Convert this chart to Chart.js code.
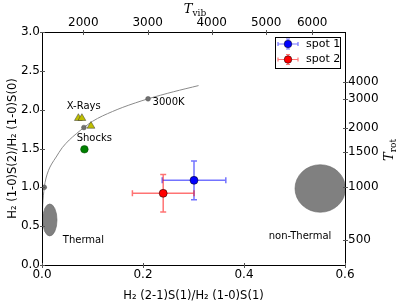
<!DOCTYPE html>
<html>
<head>
<meta charset="utf-8">
<script src="https://cdn.jsdelivr.net/npm/chart.js@4.4.1/dist/chart.umd.min.js"></script>
<style>
body { margin: 0; background: #fff; }
</style>
</head>
<body>
<canvas id="myChart" width="399" height="303"></canvas>
<script>
// LTE model curve: x = 2-1 S(1)/1-0 S(1), y = 1-0 S(2)/1-0 S(0)
const curveX = [0.0, 0.0003, 0.0015, 0.0045, 0.008, 0.013, 0.019, 0.028, 0.04, 0.054, 0.068, 0.083, 0.1, 0.12, 0.16, 0.21, 0.26, 0.31];
const curveY = [0.0, 0.45, 0.78, 1.00, 1.12, 1.22, 1.30, 1.39, 1.51, 1.61, 1.69, 1.77, 1.85, 1.92, 2.03, 2.14, 2.23, 2.31];
// temperature marks on the curve
const dotX = [0.0045, 0.083, 0.21];
const dotY = [1.00, 1.77, 2.14];
// models
const xrayX = [0.072, 0.079, 0.097];
const xrayY = [1.89, 1.89, 1.79];
const shockX = [0.084];
const shockY = [1.49];
// observed spots
const spotNames = ['spot 1', 'spot 2'];
const spotX = [0.301, 0.240];
const spotY = [1.09, 0.923];
const spotXErr = [0.063, 0.061];
const spotYErr = [0.25, 0.242];
// thermal / non-thermal regions (centre and half sizes)
const regionX = [0.0154, 0.551];
const regionY = [0.58, 0.985];
const regionW = [0.0143, 0.050];
const regionH = [0.206, 0.306];
// annotations
const noteText = ['X-Rays', 'Shocks', '3000K', 'Thermal', 'non-Thermal'];
const noteX = [0.0826, 0.1036, 0.219, 0.082, 0.511];
const noteY = [2.037, 1.631, 2.089, 0.322, 0.364];
// ticks
const xTicks = [0, 0.2, 0.4, 0.6];
const yTicks = [0, 0.5, 1.0, 1.5, 2.0, 2.5, 3.0];
const tvibLabels = [2000, 3000, 4000, 5000, 6000];
const tvibPos = [0.0818, 0.2093, 0.336, 0.444, 0.535];
const trotLabels = [500, 1000, 1500, 2000, 3000, 4000];
const trotPos = [0.322, 1.004, 1.454, 1.763, 2.136, 2.355];

const spotColors = ['#0000ff', '#ff0000'];
const spotErrColors = ['rgba(0,0,255,0.55)', 'rgba(255,0,0,0.55)'];

Chart.defaults.font.family = 'DejaVu Sans';
Chart.defaults.color = '#000';

function pts(xs, ys) {
    return xs.map((x, i) => ({x: x, y: ys[i]}));
}

function drawTSub(ctx, x, y, sub, rot) {
    ctx.save();
    ctx.translate(x, y);
    ctx.rotate(rot);
    ctx.fillStyle = '#000';
    ctx.textBaseline = 'alphabetic';
    ctx.font = 'italic 13px "DejaVu Serif"';
    const w1 = ctx.measureText('T').width;
    ctx.font = '9px "DejaVu Serif"';
    const w2 = ctx.measureText(sub).width;
    const start = -(w1 + w2) / 2;
    ctx.font = 'italic 13px "DejaVu Serif"';
    ctx.textAlign = 'left';
    ctx.fillText('T', start, 4);
    ctx.font = '9px "DejaVu Serif"';
    ctx.fillText(sub, start + w1, 7);
    ctx.restore();
}

const extras = {
    id: 'extras',
    beforeDatasetsDraw(chart) {
        const ctx = chart.ctx;
        const xs = chart.scales.x, ys = chart.scales.y;
        // regions
        ctx.save();
        regionX.forEach((cx, i) => {
            const px = xs.getPixelForValue(cx), py = ys.getPixelForValue(regionY[i]);
            const rx = xs.getPixelForValue(cx + regionW[i]) - px;
            const ry = py - ys.getPixelForValue(regionY[i] + regionH[i]);
            ctx.beginPath();
            ctx.ellipse(px, py, rx, ry, 0, 0, Math.PI * 2);
            ctx.fillStyle = '#808080';
            ctx.fill();
            ctx.lineWidth = 0.6;
            ctx.strokeStyle = '#666';
            ctx.stroke();
        });
        // error bars
        spotX.forEach((sx, i) => {
            const px = xs.getPixelForValue(sx), py = ys.getPixelForValue(spotY[i]);
            const x0 = xs.getPixelForValue(sx - spotXErr[i]), x1 = xs.getPixelForValue(sx + spotXErr[i]);
            const y0 = ys.getPixelForValue(spotY[i] - spotYErr[i]), y1 = ys.getPixelForValue(spotY[i] + spotYErr[i]);
            ctx.strokeStyle = spotErrColors[i];
            ctx.lineWidth = 1.5;
            ctx.beginPath();
            ctx.moveTo(x0, py); ctx.lineTo(x1, py);
            ctx.moveTo(px, y0); ctx.lineTo(px, y1);
            ctx.moveTo(x0, py - 3); ctx.lineTo(x0, py + 3);
            ctx.moveTo(x1, py - 3); ctx.lineTo(x1, py + 3);
            ctx.moveTo(px - 3, y0); ctx.lineTo(px + 3, y0);
            ctx.moveTo(px - 3, y1); ctx.lineTo(px + 3, y1);
            ctx.stroke();
        });
        ctx.restore();
    },
    afterDraw(chart) {
        const ctx = chart.ctx;
        const a = chart.chartArea;
        const xs = chart.scales.x, ys = chart.scales.y;
        ctx.save();
        // notes
        ctx.fillStyle = '#000';
        ctx.font = '10px "DejaVu Sans"';
        ctx.textBaseline = 'middle';
        noteText.forEach((t, i) => {
            ctx.textAlign = t === '3000K' ? 'left' : 'center';
            ctx.fillText(t, xs.getPixelForValue(noteX[i]), ys.getPixelForValue(noteY[i]));
        });
        // frame
        ctx.strokeStyle = '#000';
        ctx.lineWidth = 1;
        ctx.strokeRect(a.left + 0.5, a.top + 0.5, a.right - a.left, a.bottom - a.top);
        // small tick marks across the spines
        ctx.strokeStyle = '#555';
        ctx.beginPath();
        ['x', 'x2'].forEach(id => {
            const s = chart.scales[id];
            const yy = id === 'x' ? a.bottom : a.top;
            s.ticks.forEach((t, i) => {
                const p = Math.round(s.getPixelForTick(i)) + 0.5;
                ctx.moveTo(p, yy - 2); ctx.lineTo(p, yy + 3);
            });
        });
        ['y', 'y2'].forEach(id => {
            const s = chart.scales[id];
            const xx = id === 'y' ? a.left : a.right;
            s.ticks.forEach((t, i) => {
                const p = Math.round(s.getPixelForTick(i)) + 0.5;
                ctx.moveTo(xx - 2, p); ctx.lineTo(xx + 3, p);
            });
        });
        ctx.stroke();
        // legend
        const lx = a.right - 70, ly = a.top + 5, lw = 65, lh = 31;
        ctx.fillStyle = '#fff';
        ctx.fillRect(lx, ly, lw, lh);
        ctx.strokeStyle = '#000';
        ctx.lineWidth = 1;
        ctx.strokeRect(lx + 0.5, ly + 0.5, lw, lh);
        spotNames.forEach((name, i) => {
            const ey = ly + 7 + i * 15.5;
            const mx = lx + 13;
            ctx.strokeStyle = spotErrColors[i];
            ctx.lineWidth = 1.2;
            ctx.beginPath();
            ctx.moveTo(lx + 3, ey); ctx.lineTo(lx + 23, ey);
            ctx.moveTo(mx, ey - 5); ctx.lineTo(mx, ey + 5);
            ctx.moveTo(mx - 2, ey - 5); ctx.lineTo(mx + 2, ey - 5);
            ctx.moveTo(mx - 2, ey + 5); ctx.lineTo(mx + 2, ey + 5);
            ctx.moveTo(lx + 3, ey - 2); ctx.lineTo(lx + 3, ey + 2);
            ctx.moveTo(lx + 23, ey - 2); ctx.lineTo(lx + 23, ey + 2);
            ctx.stroke();
            ctx.beginPath();
            ctx.arc(mx, ey, 3.8, 0, Math.PI * 2);
            ctx.fillStyle = spotColors[i];
            ctx.fill();
            ctx.lineWidth = 0.5;
            ctx.strokeStyle = '#000';
            ctx.stroke();
            ctx.fillStyle = '#000';
            ctx.font = '11px "DejaVu Sans"';
            ctx.textAlign = 'left';
            ctx.textBaseline = 'middle';
            ctx.fillText(name, lx + 31, ey);
        });
        // secondary axis titles
        drawTSub(ctx, 195, 9, 'vib', 0);
        drawTSub(ctx, 389, 150, 'rot', -Math.PI / 2);
        ctx.restore();
    }
};

const tickFont = {size: 12};

new Chart(document.getElementById('myChart'), {
    type: 'scatter',
    data: {
        datasets: [
            {
                label: 'spot 1',
                data: pts([spotX[0]], [spotY[0]]),
                pointRadius: 4, pointBackgroundColor: spotColors[0],
                pointBorderColor: '#000', pointBorderWidth: 0.5
            },
            {
                label: 'spot 2',
                data: pts([spotX[1]], [spotY[1]]),
                pointRadius: 4, pointBackgroundColor: spotColors[1],
                pointBorderColor: '#000', pointBorderWidth: 0.5
            },
            {
                label: 'X-Rays',
                data: pts(xrayX, xrayY),
                pointStyle: 'triangle', pointRadius: 4.5,
                pointBackgroundColor: '#bfbf00', pointBorderColor: '#333', pointBorderWidth: 0.5
            },
            {
                label: 'Shocks',
                data: pts(shockX, shockY),
                pointRadius: 3.8, pointBackgroundColor: '#008000',
                pointBorderColor: '#004000', pointBorderWidth: 0.5
            },
            {
                label: 'marks',
                data: pts(dotX, dotY),
                pointRadius: 2.4, pointBackgroundColor: '#707070',
                pointBorderColor: '#505050', pointBorderWidth: 0.5
            },
            {
                label: 'model',
                data: pts(curveX, curveY),
                showLine: true, pointRadius: 0,
                borderColor: '#8a8a8a', borderWidth: 1,
                tension: 0.3
            }
        ]
    },
    options: {
        responsive: false,
        animation: false,
        layout: {padding: 0},
        plugins: {legend: {display: false}, tooltip: {enabled: false}},
        scales: {
            x: {
                type: 'linear', position: 'bottom', min: 0, max: 0.6,
                afterBuildTicks: s => { s.ticks = xTicks.map(v => ({value: v})); },
                ticks: {callback: v => v.toFixed(1), font: tickFont, padding: 3, maxRotation: 0, autoSkip: false},
                grid: {display: false, drawTicks: false},
                border: {display: false},
                title: {display: true, text: 'H₂ (2-1)S(1)/H₂ (1-0)S(1)', font: {size: 11.5}, padding: {top: 9, bottom: 0}},
                afterFit: s => { s.height = 38; }
            },
            y: {
                type: 'linear', position: 'left', min: 0, max: 3,
                afterBuildTicks: s => { s.ticks = yTicks.map(v => ({value: v})); },
                ticks: {callback: v => v.toFixed(1), font: tickFont, padding: 2, autoSkip: false},
                grid: {display: false, drawTicks: false},
                border: {display: false},
                title: {display: true, text: 'H₂ (1-0)S(2)/H₂ (1-0)S(0)', font: {size: 11.5}, padding: {top: 6, bottom: 0}},
                afterFit: s => { s.width = 42; }
            },
            x2: {
                type: 'linear', position: 'top', min: 0, max: 0.6,
                afterBuildTicks: s => { s.ticks = tvibPos.map(v => ({value: v})); },
                ticks: {callback: (v, i) => tvibLabels[i], font: tickFont, padding: 2, maxRotation: 0, autoSkip: false},
                grid: {display: false, drawTicks: false},
                border: {display: false},
                afterFit: s => { s.height = 32; }
            },
            y2: {
                type: 'linear', position: 'right', min: 0, max: 3,
                afterBuildTicks: s => { s.ticks = trotPos.map(v => ({value: v})); },
                ticks: {callback: (v, i) => trotLabels[i], font: tickFont, padding: 3, autoSkip: false},
                grid: {display: false, drawTicks: false},
                border: {display: false},
                afterFit: s => { s.width = 54; }
            }
        }
    },
    plugins: [extras]
});
</script>
</body>
</html>
